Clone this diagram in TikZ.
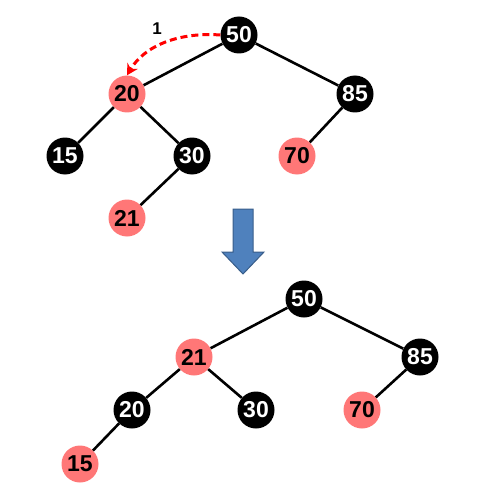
\documentclass[tikz,border=0pt]{standalone}
\usepackage{fontspec}
\setmainfont{Liberation Sans}
\usetikzlibrary{arrows.meta}
\definecolor{rednode}{RGB}{255,119,119}
\definecolor{arrowblue}{RGB}{79,129,189}
\definecolor{arrowedge}{RGB}{56,93,138}
\tikzset{
  bnode/.style={circle,fill=black,text=white,minimum size=37pt,inner sep=0pt,font=\fontsize{23}{23}\selectfont\bfseries},
  rnode/.style={circle,fill=rednode,text=black,minimum size=37pt,inner sep=0pt,font=\fontsize{23}{23}\selectfont\bfseries},
  edge/.style={line width=2.6pt,black}
}
\begin{document}
\begin{tikzpicture}[x=1pt,y=-1pt]
\useasboundingbox (0,0) rectangle (500,500);
% top tree
\node[bnode] (a50) at (239,35) {50};
\node[rnode] (a20) at (127,94) {20};
\node[bnode] (a85) at (355,94) {85};
\node[bnode] (a15) at (65,156) {15};
\node[bnode] (a30) at (192,156) {30};
\node[rnode] (a70) at (297,156) {70};
\node[rnode] (a21) at (127,218) {21};
\draw[edge] (a50) -- (a20);
\draw[edge] (a50) -- (a85);
\draw[edge] (a20) -- (a15);
\draw[edge] (a20) -- (a30);
\draw[edge] (a85) -- (a70);
\draw[edge] (a30) -- (a21);
\draw[red,line width=3pt,dash pattern=on 7pt off 4pt,-{Stealth[length=11pt,width=12pt]}]
  (a50.west) .. controls (180,32) and (145,45) .. (a20.north);
\node[font=\fontsize{17}{17}\selectfont\bfseries] (lbl) at (157,29) {1};
% block arrow
\filldraw[fill=arrowblue,draw=arrowedge,line width=1pt]
  (233,209) -- (253,209) -- (253,252) -- (264,252) -- (243,274) -- (222,252) -- (233,252) -- cycle;
% bottom tree
\node[bnode] (b50) at (304,299) {50};
\node[rnode] (b21) at (194,357) {21};
\node[bnode] (b85) at (420,357) {85};
\node[bnode] (b20) at (132,410) {20};
\node[bnode] (b30) at (256,410) {30};
\node[rnode] (b70) at (362,410) {70};
\node[rnode] (b15) at (80,464) {15};
\draw[edge] (b50) -- (b21);
\draw[edge] (b50) -- (b85);
\draw[edge] (b21) -- (b20);
\draw[edge] (b21) -- (b30);
\draw[edge] (b85) -- (b70);
\draw[edge] (b20) -- (b15);
\end{tikzpicture}
\end{document}
